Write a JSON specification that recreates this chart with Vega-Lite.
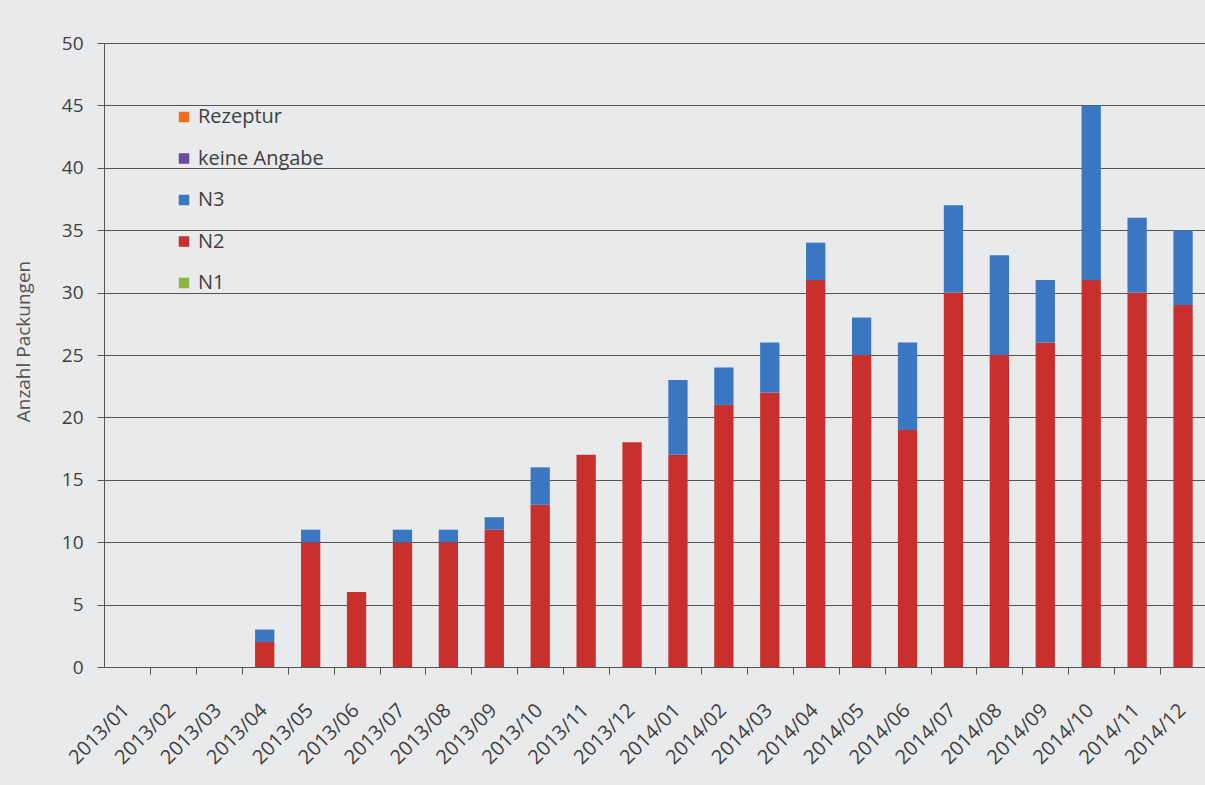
{
  "$schema": "https://vega.github.io/schema/vega-lite/v6.json",
  "width": 1102,
  "height": 624,
  "autosize": {"type": "none"},
  "padding": {"left": 104, "top": 43, "right": 0, "bottom": 118},
  "background": "#e9eaeb",
  "config": {
    "view": {"stroke": null},
    "font": "Open Sans",
    "axis": {"labelFont": "Open Sans", "titleFont": "Open Sans"},
    "legend": {"labelFont": "Open Sans"}
  },
  "data": {
    "values": [
      {"monat": "2013/01", "typ": "N2", "anzahl": 0},
      {"monat": "2013/02", "typ": "N2", "anzahl": 0},
      {"monat": "2013/03", "typ": "N2", "anzahl": 0},
      {"monat": "2013/04", "typ": "N2", "anzahl": 2},
      {"monat": "2013/04", "typ": "N3", "anzahl": 1},
      {"monat": "2013/05", "typ": "N2", "anzahl": 10},
      {"monat": "2013/05", "typ": "N3", "anzahl": 1},
      {"monat": "2013/06", "typ": "N2", "anzahl": 6},
      {"monat": "2013/07", "typ": "N2", "anzahl": 10},
      {"monat": "2013/07", "typ": "N3", "anzahl": 1},
      {"monat": "2013/08", "typ": "N2", "anzahl": 10},
      {"monat": "2013/08", "typ": "N3", "anzahl": 1},
      {"monat": "2013/09", "typ": "N2", "anzahl": 11},
      {"monat": "2013/09", "typ": "N3", "anzahl": 1},
      {"monat": "2013/10", "typ": "N2", "anzahl": 13},
      {"monat": "2013/10", "typ": "N3", "anzahl": 3},
      {"monat": "2013/11", "typ": "N2", "anzahl": 17},
      {"monat": "2013/12", "typ": "N2", "anzahl": 18},
      {"monat": "2014/01", "typ": "N2", "anzahl": 17},
      {"monat": "2014/01", "typ": "N3", "anzahl": 6},
      {"monat": "2014/02", "typ": "N2", "anzahl": 21},
      {"monat": "2014/02", "typ": "N3", "anzahl": 3},
      {"monat": "2014/03", "typ": "N2", "anzahl": 22},
      {"monat": "2014/03", "typ": "N3", "anzahl": 4},
      {"monat": "2014/04", "typ": "N2", "anzahl": 31},
      {"monat": "2014/04", "typ": "N3", "anzahl": 3},
      {"monat": "2014/05", "typ": "N2", "anzahl": 25},
      {"monat": "2014/05", "typ": "N3", "anzahl": 3},
      {"monat": "2014/06", "typ": "N2", "anzahl": 19},
      {"monat": "2014/06", "typ": "N3", "anzahl": 7},
      {"monat": "2014/07", "typ": "N2", "anzahl": 30},
      {"monat": "2014/07", "typ": "N3", "anzahl": 7},
      {"monat": "2014/08", "typ": "N2", "anzahl": 25},
      {"monat": "2014/08", "typ": "N3", "anzahl": 8},
      {"monat": "2014/09", "typ": "N2", "anzahl": 26},
      {"monat": "2014/09", "typ": "N3", "anzahl": 5},
      {"monat": "2014/10", "typ": "N2", "anzahl": 31},
      {"monat": "2014/10", "typ": "N3", "anzahl": 14},
      {"monat": "2014/11", "typ": "N2", "anzahl": 30},
      {"monat": "2014/11", "typ": "N3", "anzahl": 6},
      {"monat": "2014/12", "typ": "N2", "anzahl": 29},
      {"monat": "2014/12", "typ": "N3", "anzahl": 6}
    ]
  },
  "transform": [
    {"lookup": "typ", "from": {"data": {"values": [
      {"typ": "N1", "rang": 1}, {"typ": "N2", "rang": 2}, {"typ": "N3", "rang": 3},
      {"typ": "keine Angabe", "rang": 4}, {"typ": "Rezeptur", "rang": 5}
    ]}, "key": "typ", "fields": ["rang"]}}
  ],
  "mark": {"type": "bar"},
  "encoding": {
    "x": {
      "field": "monat", "type": "ordinal", "sort": null,
      "scale": {"paddingInner": 0.58, "paddingOuter": 0.29},
      "axis": {
        "title": null, "labelAngle": -45, "labelAlign": "right", "labelBaseline": "middle",
        "labelFontSize": 20, "labelColor": "#404040", "labelPadding": 33,
        "tickOffset": 23, "labelOffset": -24,
        "tickColor": "#555555", "tickSize": 7,
        "domainColor": "#555555", "grid": false
      }
    },
    "y": {
      "field": "anzahl", "type": "quantitative", "stack": "zero",
      "scale": {"domain": [0, 50], "nice": false},
      "axis": {
        "title": "Anzahl Packungen", "titleFontSize": 19, "titleFontWeight": "normal",
        "titleColor": "#555555", "titlePadding": 28, "titleY": 298,
        "values": [0, 5, 10, 15, 20, 25, 30, 35, 40, 45, 50],
        "labelFontSize": 19, "labelColor": "#404040", "labelPadding": 14,
        "tickColor": "#555555", "tickSize": 7,
        "domainColor": "#555555",
        "gridColor": "#555555", "gridOpacity": 1, "gridWidth": 1
      }
    },
    "color": {
      "field": "typ", "type": "nominal",
      "scale": {
        "domain": ["Rezeptur", "keine Angabe", "N3", "N2", "N1"],
        "range": ["#f26b1f", "#6a4c9c", "#3a77c2", "#c8302e", "#8cb443"]
      },
      "legend": {
        "orient": "none", "legendX": 70, "legendY": 64, "title": null,
        "symbolType": "square", "symbolSize": 110, "symbolStrokeWidth": 0,
        "labelFontSize": 20, "labelColor": "#404040", "labelOffset": 4,
        "rowPadding": 21.5
      }
    },
    "order": {"field": "rang", "type": "quantitative", "sort": "ascending"}
  }
}
